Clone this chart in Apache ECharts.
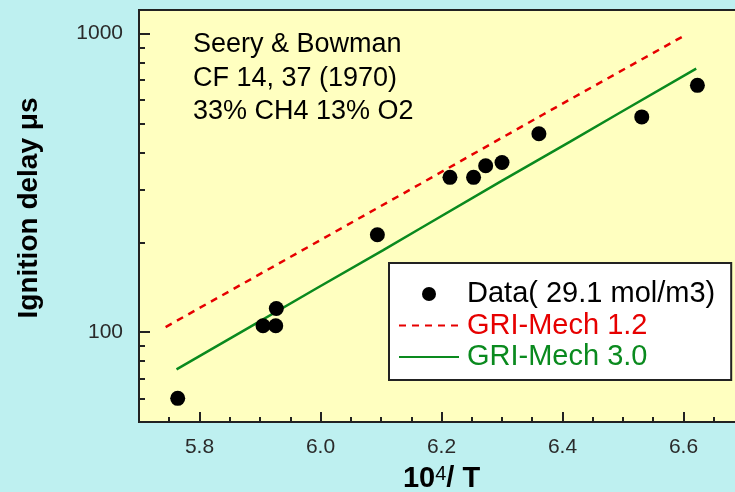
<!DOCTYPE html>
<html>
<head>
<meta charset="utf-8">
<script src="https://cdn.jsdelivr.net/npm/echarts@6/dist/echarts.min.js"></script>
<style>
  html, body { margin: 0; padding: 0; background: #BEF0F0; }
  #chart { width: 735px; height: 492px; }
</style>
</head>
<body>
<div id="chart"></div>
<script>
// Measured ignition delays (Seery & Bowman, CF 14, 37, 1970)
const dataInvT  = [5.764, 5.905, 5.926, 5.927, 6.094, 6.214, 6.253, 6.273, 6.300, 6.361, 6.531, 6.623];
const dataDelay = [60, 105, 105, 120, 212, 330, 330, 361, 370, 462, 526, 671];

// GRI-Mech 1.2 prediction
const gri12InvT  = [5.744, 5.927, 6.164, 6.368, 6.599];
const gri12Delay = [104, 168, 313, 536, 979];

// GRI-Mech 3.0 prediction
const gri30InvT  = [5.762, 5.883, 5.993, 6.103, 6.164, 6.296, 6.412, 6.494, 6.621];
const gri30Delay = [75, 104, 140, 188, 222, 318, 434, 542, 763];

// Axis ticks
const xMajorTicks = [5.8, 6.0, 6.2, 6.4, 6.6];
const xMajorStep = 0.2;
const xMinorStep = 0.05;
const yMajorTicks = [100, 1000];
const yMinorTicks = [60, 70, 80, 90, 200, 300, 400, 500, 600, 700, 800, 900];

const seriesNames = ['Data( 29.1 mol/m3)', 'GRI-Mech 1.2', 'GRI-Mech 3.0'];
const noteLines = ['Seery & Bowman', 'CF 14, 37 (1970)', '33% CH4 13% O2'];

const FONT = 'Liberation Sans, Arial, sans-serif';
const RED = '#E60000';
const GREEN = '#0A8A1E';
const FRAME = '#222222';

// plot frame geometry (px); 1 unit of 10^4/T spans 605 px
const PLOT_LEFT = 139, PLOT_TOP = 10, PLOT_RIGHT = -9, PLOT_BOTTOM = 70;
const PX_PER_UNIT = 605;

const zip = (xs, ys) => xs.map((x, i) => [x, ys[i]]);

const chart = echarts.init(document.getElementById('chart'), null, { renderer: 'canvas' });

chart.setOption({
  animation: false,
  backgroundColor: '#BEF0F0',
  grid: [
    {
      left: PLOT_LEFT, top: PLOT_TOP, right: PLOT_RIGHT, bottom: PLOT_BOTTOM,
      outerBoundsMode: 'none',
      containLabel: false,
      show: true,
      backgroundColor: '#FFFFC0',
      borderColor: FRAME,
      borderWidth: 2
    },
    {
      // same scale as the plot, starting at the first long tick (5.8)
      left: PLOT_LEFT + (xMajorTicks[0] - 5.7) * PX_PER_UNIT,
      top: PLOT_TOP,
      right: PLOT_RIGHT - (xMajorTicks[0] - 5.7) * PX_PER_UNIT,
      bottom: PLOT_BOTTOM,
      outerBoundsMode: 'none',
      containLabel: false,
      show: false
    }
  ],
  xAxis: [
    {
      type: 'value', min: 5.7, max: 6.7, position: 'bottom', gridIndex: 0,
      axisLine: { show: true, lineStyle: { color: FRAME, width: 2 } },
      axisTick: { show: false },
      axisLabel: { customValues: xMajorTicks, formatter: v => v.toFixed(1),
                   fontSize: 21, color: '#2a2a2a', fontFamily: FONT, margin: 15 },
      splitLine: { show: false },
      name: '{b|10}{s|4}{b|/ T}',
      nameLocation: 'middle',
      nameGap: 42,
      nameTextStyle: {
        rich: {
          b: { fontSize: 29, fontWeight: 'bold', color: '#000', fontFamily: FONT },
          s: { fontSize: 20, color: '#000', fontFamily: FONT, verticalAlign: 'top' }
        }
      }
    },
    {
      // short ticks every 0.05
      type: 'value', min: 5.7, max: 6.7, interval: xMinorStep, position: 'bottom', gridIndex: 0,
      axisLine: { show: false },
      axisTick: { show: true, inside: true, length: 5,
                  lineStyle: { color: FRAME, width: 2 } },
      axisLabel: { show: false },
      splitLine: { show: false }
    },
    {
      // long ticks every 0.2
      type: 'value', min: 5.8, max: 6.8, interval: xMajorStep, position: 'bottom', gridIndex: 1,
      axisLine: { show: false },
      axisTick: { show: true, inside: true, length: 10,
                  lineStyle: { color: FRAME, width: 2 } },
      axisLabel: { show: false },
      splitLine: { show: false }
    }
  ],
  yAxis: [
    {
      type: 'log', logBase: 10, min: 50, max: 1200, position: 'left', gridIndex: 0,
      axisLine: { show: true, lineStyle: { color: FRAME, width: 2 } },
      axisTick: { show: true, inside: true, length: 11, customValues: yMajorTicks,
                  lineStyle: { color: FRAME, width: 2 } },
      axisLabel: { customValues: yMajorTicks, formatter: v => String(Math.round(v)),
                   fontSize: 21, color: '#2a2a2a', fontFamily: FONT, margin: 16 },
      splitLine: { show: false },
      name: 'Ignition delay μs',
      nameLocation: 'middle',
      nameGap: 96,
      nameTextStyle: { fontSize: 28, fontWeight: 'bold', color: '#000', fontFamily: FONT,
                       padding: [0, 0, 0, 16] }
    },
    {
      type: 'log', logBase: 10, min: 50, max: 1200, position: 'left', gridIndex: 0,
      axisLine: { show: false },
      axisTick: { show: true, inside: true, length: 6, customValues: yMinorTicks,
                  lineStyle: { color: FRAME, width: 2 } },
      axisLabel: { show: false },
      splitLine: { show: false }
    },
    {
      type: 'value', gridIndex: 1, show: false
    }
  ],
  legend: {
    orient: 'vertical',
    left: 389, top: 263,
    padding: [16, 16, 8, 9],
    itemGap: 1.5,
    itemWidth: 60,
    itemHeight: 14,
    backgroundColor: '#FFFFFF',
    borderColor: FRAME,
    borderWidth: 2,
    borderRadius: 0,
    textStyle: { fontSize: 29, lineHeight: 30, fontFamily: FONT, padding: [0, 0, 0, 3] },
    data: [
      { name: seriesNames[0], textStyle: { color: '#000' } },
      { name: seriesNames[1], textStyle: { color: RED }, itemStyle: { opacity: 0 } },
      { name: seriesNames[2], textStyle: { color: GREEN }, itemStyle: { opacity: 0 } }
    ]
  },
  graphic: [
    {
      type: 'text', left: 193, top: 28, z: 10,
      style: {
        text: noteLines.join('\n'),
        font: '27px ' + FONT,
        lineHeight: 33.5,
        fill: '#000'
      }
    }
  ],
  series: [
    {
      name: seriesNames[0], type: 'scatter',
      xAxisIndex: 0, yAxisIndex: 0,
      symbol: 'circle', symbolSize: 15,
      itemStyle: { color: '#000', opacity: 1 },
      data: zip(dataInvT, dataDelay),
      z: 5
    },
    {
      name: seriesNames[1], type: 'line',
      xAxisIndex: 0, yAxisIndex: 0,
      symbol: 'none', showSymbol: false,
      color: RED,
      lineStyle: { color: RED, width: 2.5, type: [7, 6] },
      data: zip(gri12InvT, gri12Delay),
      z: 3
    },
    {
      name: seriesNames[2], type: 'line',
      xAxisIndex: 0, yAxisIndex: 0,
      symbol: 'none', showSymbol: false,
      color: GREEN,
      lineStyle: { color: GREEN, width: 2.5 },
      data: zip(gri30InvT, gri30Delay),
      z: 3
    }
  ]
});
</script>
</body>
</html>
